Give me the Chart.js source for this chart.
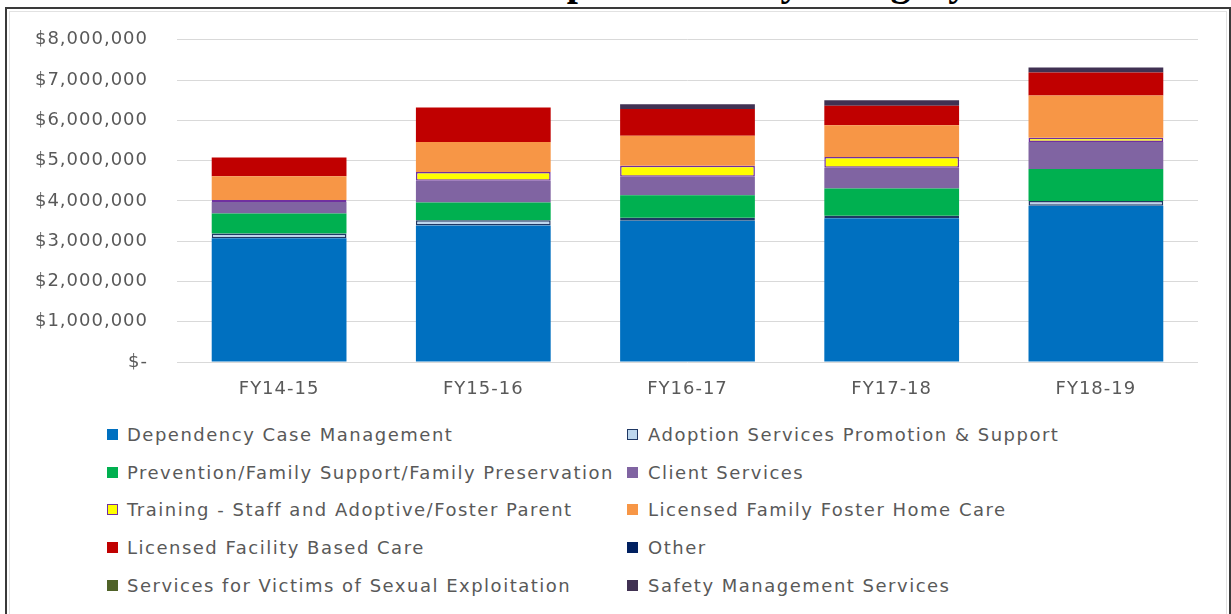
<!DOCTYPE html>
<html>
<head>
<meta charset="utf-8">
<script src="https://cdn.jsdelivr.net/npm/chart.js@4/dist/chart.umd.min.js"></script>
<style>
    html, body { margin: 0; padding: 0; background: #fff; }
    body { width: 1231px; height: 614px; position: relative; overflow: hidden; font-family: "DejaVu Sans", sans-serif; }
    #title { position: absolute; left: 520px; top: -38.5px; font: bold 40px/40px "Liberation Serif", serif; color: #000; white-space: nowrap; }
    #frame { position: absolute; left: 5px; top: 7px; width: 1222px; height: 620px; border: 2px solid #3a3a3a; }
    #inner { position: absolute; left: 2px; top: 2px; right: 2px; bottom: 2px; border: 1px solid #e2e2e2; }
    #chart { position: absolute; left: 0; top: 0; }
    #legend { position: absolute; left: 0; top: 0; }
    .item { position: absolute; height: 22px; line-height: 22px; font-size: 18px; letter-spacing: 1.5px; color: #595959; white-space: nowrap; }
    .swatch { position: absolute; left: 0; top: 5px; width: 11px; height: 11px; box-sizing: border-box; }
    .item span.txt { position: absolute; top: 0; }
</style>
</head>
<body>
<div id="title">Expenditures by Category</div>
<div id="frame"><div id="inner"></div></div>
<canvas id="chart" width="1231" height="402" style="width:1231px;height:402px"></canvas>
<div id="legend"></div>
<script>
// Fiscal years on the x axis
const years = ['FY14-15', 'FY15-16', 'FY16-17', 'FY17-18', 'FY18-19'];

// Spending per category, in millions of dollars (stacked bottom to top)
const dependencyCase   = [3.07, 3.39, 3.51, 3.57, 3.88];
const adoptionServices = [0.12, 0.13, 0.07, 0.06, 0.12];
const prevention       = [0.50, 0.44, 0.56, 0.68, 0.79];
const clientServices   = [0.28, 0.54, 0.46, 0.51, 0.67];
const training         = [0.05, 0.22, 0.27, 0.27, 0.11];
const familyFoster     = [0.59, 0.74, 0.75, 0.79, 1.05];
const facilityCare     = [0.47, 0.86, 0.66, 0.48, 0.57];
const other            = [0, 0, 0, 0, 0];
const victimsServices  = [0, 0, 0, 0, 0];
const safetyMgmt       = [0, 0, 0.12, 0.14, 0.12];

// Y axis ticks
const yTicks = [0, 1, 2, 3, 4, 5, 6, 7, 8];

const series = [
    { label: 'Dependency Case Management', data: dependencyCase, color: '#0070C0' },
    { label: 'Adoption Services Promotion & Support', data: adoptionServices, color: '#BDD7EE', border: '#1F3864' },
    { label: 'Prevention/Family Support/Family Preservation', data: prevention, color: '#00B050' },
    { label: 'Client Services', data: clientServices, color: '#8064A2' },
    { label: 'Training - Staff and Adoptive/Foster Parent', data: training, color: '#FFFF00', border: '#7030A0' },
    { label: 'Licensed Family Foster Home Care', data: familyFoster, color: '#F79646' },
    { label: 'Licensed Facility Based Care', data: facilityCare, color: '#C00000' },
    { label: 'Other', data: other, color: '#002060' },
    { label: 'Services for Victims of Sexual Exploitation', data: victimsServices, color: '#4F6228' },
    { label: 'Safety Management Services', data: safetyMgmt, color: '#403152' }
];

function formatDollars(v) {
    if (v === 0) return '$-';
    return '$' + Math.round(v * 1000000).toLocaleString('en-US');
}

const tickFont = { family: '"DejaVu Sans", sans-serif', size: 18 };

// wider spacing on the axis labels
const spacedText = {
    id: 'spacedText',
    beforeDraw(chart) { chart.ctx.letterSpacing = '1px'; }
};

new Chart(document.getElementById('chart'), {
    type: 'bar',
    data: {
        labels: years,
        datasets: series.map(s => ({
            label: s.label,
            data: s.data,
            backgroundColor: s.color,
            borderColor: s.border || s.color,
            borderWidth: s.border ? 1.5 : 0,
            borderSkipped: false,
            barPercentage: 0.66,
            categoryPercentage: 1
        }))
    },
    options: {
        responsive: false,
        animation: false,
        layout: { padding: { top: 36, right: 33, bottom: 0, left: 0 } },
        plugins: { legend: { display: false }, tooltip: { enabled: false } },
        scales: {
            x: {
                stacked: true,
                grid: { display: false },
                border: { display: false },
                ticks: { color: '#595959', font: tickFont, padding: 9 },
                afterFit: s => { s.height = 40; }
            },
            y: {
                stacked: true,
                min: 0,
                max: 8,
                afterBuildTicks: s => { s.ticks = yTicks.map(v => ({ value: v })); },
                grid: { color: '#d9d9d9', lineWidth: 1, drawTicks: false },
                border: { display: false },
                ticks: { color: '#595959', font: tickFont, padding: 29, callback: v => formatDollars(v) },
                afterFit: s => { s.width = 177; }
            }
        }
    },
    plugins: [spacedText]
});

// Two-column legend below the plot
const legend = document.getElementById('legend');
series.forEach((s, i) => {
    const col = i % 2, row = Math.floor(i / 2);
    const item = document.createElement('div');
    item.className = 'item';
    item.style.left = (col ? 627 : 107) + 'px';
    item.style.top = (424 + row * 37.7) + 'px';
    const sw = document.createElement('div');
    sw.className = 'swatch';
    sw.style.background = s.color;
    if (s.border) sw.style.border = '1.5px solid ' + s.border;
    const txt = document.createElement('span');
    txt.className = 'txt';
    txt.style.left = (col ? 21 : 20) + 'px';
    txt.textContent = s.label;
    item.appendChild(sw);
    item.appendChild(txt);
    legend.appendChild(item);
});
</script>
</body>
</html>
